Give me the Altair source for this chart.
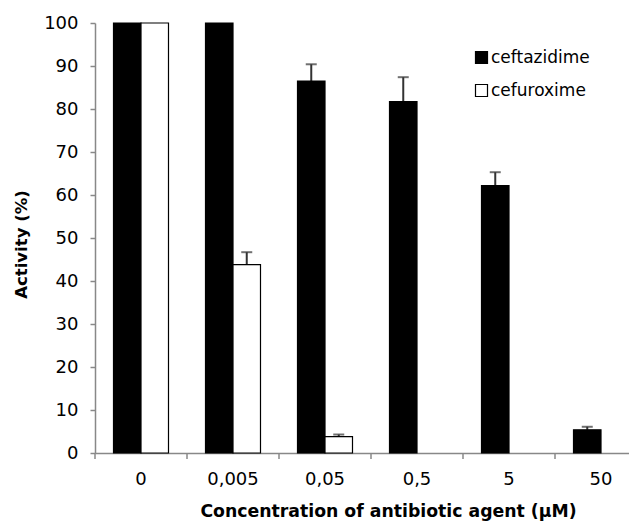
import altair as alt
import pandas as pd

categories = ["0", "0,005", "0,05", "0,5", "5", "50"]
series = ["ceftazidime", "cefuroxime"]
ceftazidime = [100, 100, 86.5, 81.7, 62.2, 5.4]
cefuroxime = [100, 43.8, 3.8, 0, 0, 0]
ceftazidime_err = [None, None, 90.4, 87.4, 65.3, 6.1]
cefuroxime_err = [None, 46.7, 4.3, None, None, None]

rows = []
for i, c in enumerate(categories):
    rows.append({"cat": c, "series": "ceftazidime", "value": ceftazidime[i], "err": ceftazidime_err[i]})
    rows.append({"cat": c, "series": "cefuroxime", "value": cefuroxime[i], "err": cefuroxime_err[i]})
df = pd.DataFrame(rows)
df_cats = pd.DataFrame({"cat": categories})

FONT = "DejaVu Sans"
GRAY = "#888888"

xscale = alt.Scale(domain=categories, paddingInner=0, paddingOuter=0)
oscale = alt.Scale(domain=series, paddingOuter=0.673, paddingInner=0)
yscale = alt.Scale(domain=[0, 100], nice=False)

x_axis = alt.Axis(
    ticks=False, domain=True, domainColor=GRAY, domainWidth=1.5,
    labelAngle=0, labelFontSize=18, labelPadding=17, labelColor="black", labelFont=FONT,
    title="Concentration of antibiotic agent (\u00b5M)", titleFontSize=17.3, titleFontWeight="bold",
    titleFont=FONT, titleColor="black", titleX=293, titleY=63, titleBaseline="alphabetic",
    titleAlign="center",
)
y_axis = alt.Axis(
    values=list(range(0, 101, 10)), tickSize=5, tickColor=GRAY, tickWidth=1.5,
    domainColor=GRAY, domainWidth=1.5, grid=False,
    labelFontSize=18, labelPadding=12, labelColor="black", labelFont=FONT,
    title="Activity (%)", titleFontSize=16.5, titleFontWeight="bold", titleFont=FONT,
    titleColor="black", titleX=-69, titleY=221, titleBaseline="alphabetic", titleAlign="center",
    titleAngle=270,
)

x_enc = alt.X("cat:N", scale=xscale, axis=x_axis, sort=categories)
xo_enc = alt.XOffset("series:N", scale=oscale, sort=series)
y_enc = alt.Y("value:Q", scale=yscale, axis=y_axis)

bars = alt.Chart(df).transform_filter("datum.value > 0").mark_bar(
    stroke="black", strokeWidth=1.2
).encode(
    x=x_enc, xOffset=xo_enc, y=y_enc,
    color=alt.Color(
        "series:N",
        scale=alt.Scale(domain=series, range=["black", "white"]),
        legend=alt.Legend(
            title=None, orient="none", legendX=378, legendY=26, symbolType="square",
            symbolSize=144, symbolStrokeColor="black", symbolStrokeWidth=1.2,
            labelFontSize=17, labelFont=FONT, labelColor="black", labelOffset=1,
            rowPadding=15, padding=0,
        ),
    ),
)

err_rule = alt.Chart(df).transform_filter("isValid(datum.err)").mark_rule(
    color="#333333", strokeWidth=2
).encode(x=x_enc, xOffset=xo_enc, y=y_enc, y2="err:Q")

err_cap = alt.Chart(df).transform_filter("isValid(datum.err)").mark_tick(
    color="#333333", thickness=2, size=11
).encode(x=x_enc, xOffset=xo_enc, y=alt.Y("err:Q", scale=yscale, axis=y_axis))

x_ticks = alt.Chart(df_cats).mark_rule(color=GRAY, strokeWidth=1.5).encode(
    x=alt.X("cat:N", scale=xscale, axis=x_axis, sort=categories, bandPosition=0),
    y=alt.value(430), y2=alt.value(436),
)

chart = alt.layer(err_rule, err_cap, bars, x_ticks).properties(
    width=552, height=430,
    autosize=alt.AutoSizeParams(type="none"),
    padding={"left": 87, "top": 15, "right": -18, "bottom": 68},
).configure(font=FONT).configure_view(stroke=None)

chart.save("out.html", embed_options={"renderer": "svg", "actions": False})
